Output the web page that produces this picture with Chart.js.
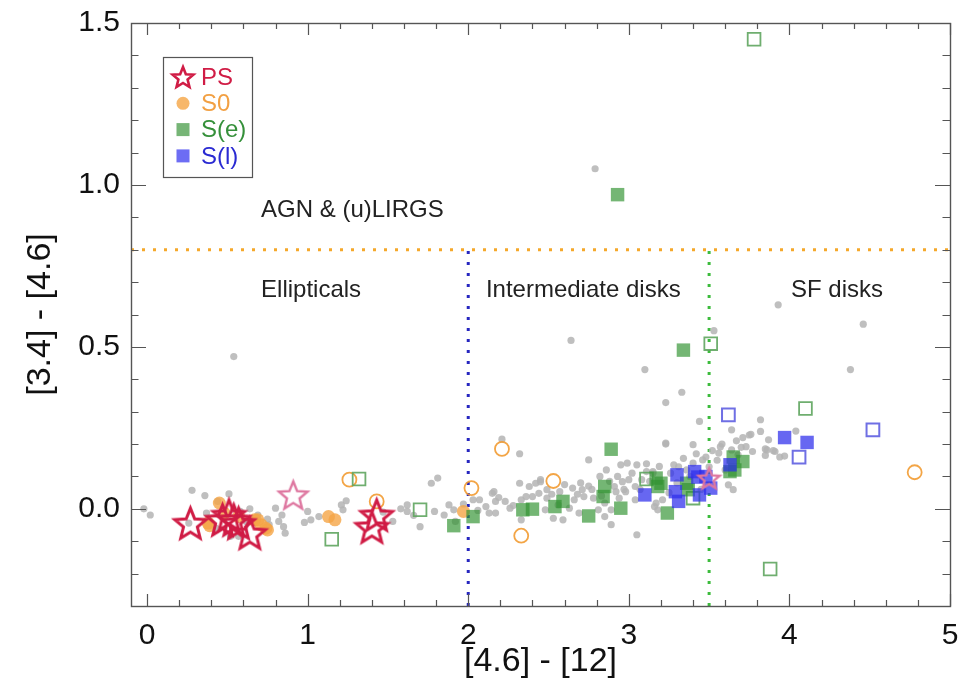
<!DOCTYPE html>
<html>
<head>
<meta charset="utf-8">
<title>[4.6] - [12] vs [3.4] - [4.6]</title>
<script src="https://cdn.jsdelivr.net/npm/chart.js@4.4.1/dist/chart.umd.min.js"></script>
<style>
  html, body { margin: 0; padding: 0; background: #fff; }
  #chart { display: block; }
</style>
</head>
<body>
<canvas id="chart" width="967" height="683"></canvas>
<script>
// colour-colour values: x = [4.6] - [12], y = [3.4] - [4.6]
const parentX = [-0.02, 0.02, 0.26, 0.28, 0.36, 0.37, 0.43, 0.44, 0.48, 0.51, 0.52, 0.54, 0.57, 0.58, 0.62, 0.64, 0.69, 0.75, 0.76, 0.80, 0.82, 0.84, 0.85, 0.86, 0.98, 1.00, 1.02, 1.07, 1.21, 1.22, 1.24,
  1.47, 1.53, 1.58, 1.62, 1.62, 1.66, 1.70, 1.77, 1.79, 1.81, 1.85, 1.88, 1.91, 1.92, 2.03, 2.07, 2.11, 2.13, 2.15, 2.16, 2.17, 2.17, 2.21, 2.23, 2.26, 2.32, 2.32, 2.33, 2.33, 2.36, 2.38, 2.40, 2.42, 2.44, 2.45, 2.48, 2.49,
  1.97, 2.06, 2.19, 2.28, 2.52, 2.56, 2.68, 2.70, 2.77, 2.83, 2.88, 2.93, 2.97, 3.02, 3.08, 3.13, 3.26, 3.31, 3.36, 3.42, 3.48, 3.52, 3.58, 3.67, 3.71,
  2.45, 2.49, 2.53, 2.57, 2.59, 2.60, 2.63, 2.64, 2.65, 2.66, 2.69, 2.71, 2.72, 2.75, 2.75, 2.78, 2.79, 2.81, 2.82, 2.85, 2.85, 2.86, 2.89, 2.89, 2.91, 2.92, 2.94, 2.95, 2.96, 2.98, 2.99, 3.00, 3.04, 3.04, 3.05, 3.05, 3.07, 3.10, 3.11, 3.11, 3.15, 3.17, 3.18, 3.23, 3.23, 3.33, 3.53,
  3.15, 3.16, 3.19, 3.21, 3.23, 3.25, 3.28, 3.30, 3.34, 3.38, 3.40, 3.40, 3.44, 3.45, 3.46, 3.50, 3.55, 3.56, 3.57, 3.60, 3.62, 3.64, 3.64, 3.65, 3.68, 3.70, 3.73, 3.75, 3.76, 3.77, 3.82, 3.82, 3.85, 3.85, 3.86, 3.87, 3.90, 3.91, 3.93, 3.94, 3.97, 4.04, 4.38, 4.46];
const parentY = [0.000, -0.019, -0.044, 0.057, 0.041, -0.013, -0.060, 0.023, -0.030, 0.046, -0.085, 0.470, -0.085, -0.008, -0.040, 0.000, -0.019, -0.032, -0.049, 0.002, -0.039, -0.019, -0.055, -0.075, -0.042, -0.008, -0.034, -0.024, 0.012, -0.003, 0.025,
  -0.010, -0.039, 0.000, 0.012, -0.008, -0.020, -0.055, 0.079, -0.008, 0.095, -0.019, 0.012, -0.003, -0.039, 0.028, 0.028, 0.007, -0.013, 0.048, 0.053, 0.023, -0.013, 0.215, 0.023, 0.002, 0.170, 0.079, 0.028, -0.034, 0.038, 0.069, 0.038, 0.079, 0.048, 0.090, -0.003, 0.059,
  0.015, -0.005, 0.035, 0.010, 0.045, 0.012, 0.045, 0.080, 0.060, 0.040, 0.085, 0.100, 0.060, 0.110, 0.090, 0.085, 0.110, 0.130, 0.120, 0.170, 0.160, 0.180, 0.200, 0.210, 0.220,
  0.084, 0.033, -0.029, 0.053, -0.034, 0.075, 0.002, 0.520, 0.064, 0.028, -0.013, 0.059, 0.038, 0.151, 0.070, 0.033, 1.050, -0.003, 0.100, 0.018, -0.024, 0.120, -0.003, -0.049, 0.069, 0.053, 0.033, 0.136, 0.084, 0.053, 0.141, 0.090, 0.069, 0.028, 0.136, -0.080, 0.060, 0.430, 0.115, 0.139, 0.110, 0.018, -0.003, 0.200, 0.328, 0.360, 0.550,
  0.115, 0.007, 0.131, 0.028, 0.203, 0.050, 0.136, 0.080, 0.156, 0.100, 0.198, 0.141, 0.270, 0.060, 0.151, 0.130, 0.150, 0.172, 0.192, 0.120, 0.074, 0.244, 0.182, 0.059, 0.167, 0.190, 0.192, 0.228, 0.230, 0.177, 0.275, 0.239, 0.185, 0.165, 0.182, 0.213, 0.180, 0.177, 0.630, 0.160, 0.163, 0.240, 0.430, 0.570];

const psX = [0.27, 0.47, 0.51, 0.54, 0.57, 0.64, 1.40, 1.43];
const psY = [-0.044, -0.034, -0.019, -0.034, -0.044, -0.075, -0.056, -0.019];
const psPaleX = [0.91, 3.50];
const psPaleY = [0.043, 0.095];

const s0X = [0.38, 0.39, 0.45, 0.48, 0.57, 0.67, 0.69, 0.71, 0.74, 0.75, 1.13, 1.17, 1.97];
const s0Y = [-0.044, -0.052, 0.018, -0.013, -0.024, -0.034, -0.034, -0.049, -0.060, -0.065, -0.024, -0.034, -0.008];
const s0OpenX = [1.26, 1.43, 2.02, 2.21, 2.33, 2.53, 4.78];
const s0OpenY = [0.090, 0.023, 0.064, 0.185, -0.083, 0.086, 0.113];

const seX = [1.91, 2.03, 2.34, 2.40, 2.54, 2.59, 2.75, 2.84, 2.85, 2.89, 2.95, 2.93, 3.17, 3.18, 3.20, 3.24, 3.34, 3.36, 3.37, 3.63, 3.65, 3.66, 3.71];
const seY = [-0.052, -0.024, -0.003, -0.001, 0.007, 0.023, -0.022, 0.038, 0.069, 0.184, 0.002, 0.970, 0.095, 0.069, 0.079, -0.013, 0.490, 0.079, 0.059, 0.115, 0.160, 0.120, 0.146];
const seOpenX = [1.15, 1.32, 1.70, 3.11, 3.40, 3.51, 3.78, 3.88, 4.10];
const seOpenY = [-0.094, 0.092, -0.003, 0.092, 0.033, 0.510, 1.450, -0.186, 0.310];

const slX = [3.10, 3.29, 3.30, 3.31, 3.41, 3.43, 3.44, 3.48, 3.51, 3.63, 3.97, 4.11];
const slY = [0.043, 0.053, 0.105, 0.023, 0.115, 0.098, 0.043, 0.100, 0.064, 0.136, 0.220, 0.205];
const slOpenX = [3.62, 4.06, 4.52];
const slOpenY = [0.290, 0.160, 0.244];

// class boundaries
const agnCut = 0.8;
const ellipticalCut = 2.0;
const sfCut = 3.5;

const X_TICKS = [0, 1, 2, 3, 4, 5];
const Y_TICKS = [0.0, 0.5, 1.0, 1.5];
const X_RANGE = [-0.1, 5];
const Y_RANGE = [-0.3, 1.5];

const REGION_LABELS = [
  { text: 'AGN & (u)LIRGS', x: 0.71, y: 0.923 },
  { text: 'Ellipticals', x: 0.71, y: 0.676 },
  { text: 'Intermediate disks', x: 2.11, y: 0.676 },
  { text: 'SF disks', x: 4.01, y: 0.676 }
];

const FONT = "'Liberation Sans', Arial, Helvetica, sans-serif";
const PS_RED = '#d01c45';
const PS_PINK = '#de77a0';

const pts = (xs, ys) => xs.map((x, i) => ({ x, y: ys[i] }));

// open five-pointed star as a point sprite
function starSprite(color, outer, lw) {
  const size = Math.ceil(outer * 2 + lw * 2 + 4);
  const c = document.createElement('canvas');
  c.width = c.height = size;
  const g = c.getContext('2d');
  g.translate(size / 2, size / 2 + outer * 0.1);
  g.beginPath();
  for (let i = 0; i < 10; i++) {
    const r = i % 2 ? outer * 0.44 : outer;
    const a = -Math.PI / 2 + i * Math.PI / 5;
    g.lineTo(r * Math.cos(a), r * Math.sin(a));
  }
  g.closePath();
  g.lineJoin = 'miter';
  g.strokeStyle = color;
  g.lineWidth = lw;
  g.stroke();
  return c;
}

const redStar = starSprite(PS_RED, 16.5, 3);
const pinkStar = starSprite(PS_PINK, 15, 2.4);
const pinkStarSmall = starSprite(PS_PINK, 11, 2.4);
const legendStar = starSprite(PS_RED, 11, 2.6);

// inward IDL-style ticks plus the box frame
const frameTicks = {
  id: 'frameTicks',
  afterDraw(chart) {
    const { ctx, chartArea: a, scales: { x, y } } = chart;
    ctx.save();
    ctx.strokeStyle = '#555';
    ctx.lineWidth = 1.2;
    ctx.beginPath();
    for (let v = 0; v <= 5.0001; v += 0.2) {
      const px = Math.round(x.getPixelForValue(v)) + 0.5;
      const major = Math.abs(v - Math.round(v)) < 1e-6;
      const len = major ? 12 : 6;
      ctx.moveTo(px, a.bottom); ctx.lineTo(px, a.bottom - len);
      ctx.moveTo(px, a.top); ctx.lineTo(px, a.top + len);
    }
    for (let v = -0.3; v <= 1.5001; v += 0.1) {
      const py = Math.round(y.getPixelForValue(v)) + 0.5;
      const major = Math.abs(v * 2 - Math.round(v * 2)) < 1e-6;
      const len = major ? 15 : 7.5;
      ctx.moveTo(a.left, py); ctx.lineTo(a.left + len, py);
      ctx.moveTo(a.right, py); ctx.lineTo(a.right - len, py);
    }
    ctx.stroke();
    ctx.lineWidth = 1.4;
    ctx.strokeRect(a.left + 0.5, a.top + 0.5, a.right - a.left, a.bottom - a.top);
    ctx.restore();
  }
};

// region names placed in data coordinates
const regionLabels = {
  id: 'regionLabels',
  afterDatasetsDraw(chart) {
    const { ctx, scales: { x, y } } = chart;
    ctx.save();
    ctx.font = '24px ' + FONT;
    ctx.fillStyle = '#222';
    ctx.textAlign = 'left';
    ctx.textBaseline = 'middle';
    REGION_LABELS.forEach(l => ctx.fillText(l.text, x.getPixelForValue(l.x), y.getPixelForValue(l.y)));
    ctx.restore();
  }
};

// boxed legend in the upper-left corner
const boxLegend = {
  id: 'boxLegend',
  afterDraw(chart) {
    const { ctx } = chart;
    const items = [
      { label: 'PS', color: PS_RED, mark: 'star' },
      { label: 'S0', color: '#f2a043', mark: 'circle', fill: 'rgba(246,170,80,0.85)' },
      { label: 'S(e)', color: '#35903a', mark: 'square', fill: 'rgba(60,150,60,0.7)' },
      { label: 'S(l)', color: '#2a2ad2', mark: 'square', fill: 'rgba(60,60,240,0.75)' }
    ];
    ctx.save();
    ctx.strokeStyle = '#555';
    ctx.lineWidth = 1.2;
    ctx.strokeRect(163.5, 57.5, 89, 120);
    ctx.font = '24px ' + FONT;
    ctx.textBaseline = 'middle';
    items.forEach((it, i) => {
      const cy = 77 + i * 26.3;
      const cx = 183;
      if (it.mark === 'star') {
        ctx.drawImage(legendStar, cx - legendStar.width / 2, cy - legendStar.height / 2);
      } else if (it.mark === 'circle') {
        ctx.fillStyle = it.fill;
        ctx.beginPath(); ctx.arc(cx, cy, 6.5, 0, Math.PI * 2); ctx.fill();
      } else {
        ctx.fillStyle = it.fill;
        ctx.fillRect(cx - 6.5, cy - 6.5, 13, 13);
      }
      ctx.fillStyle = it.color;
      ctx.fillText(it.label, 201, cy + 1);
    });
    ctx.restore();
  }
};

const dotted = (color, data) => ({
  type: 'line',
  data,
  borderColor: color,
  borderWidth: 3,
  borderDash: [3, 8],
  pointRadius: 0,
  fill: false
});

new Chart(document.getElementById('chart'), {
  type: 'scatter',
  data: {
    datasets: [
      { label: 'PS', data: pts(psX, psY), pointStyle: redStar, pointRadius: 10 },
      { label: 'PS (pale)', data: pts(psPaleX, psPaleY), pointStyle: [pinkStar, pinkStarSmall], pointRadius: 10 },
      { label: 'S(l)', data: pts(slX, slY), pointStyle: 'rect', pointRadius: 9.5, backgroundColor: 'rgba(45,45,235,0.72)', borderWidth: 0 },
      { label: 'S(l) open', data: pts(slOpenX, slOpenY), pointStyle: 'rect', pointRadius: 9, backgroundColor: 'transparent', borderColor: 'rgba(95,95,225,0.9)', borderWidth: 2 },
      { label: 'S(e)', data: pts(seX, seY), pointStyle: 'rect', pointRadius: 9.5, backgroundColor: 'rgba(50,148,50,0.68)', borderWidth: 0 },
      { label: 'S(e) open', data: pts(seOpenX, seOpenY), pointStyle: 'rect', pointRadius: 9, backgroundColor: 'transparent', borderColor: 'rgba(95,165,95,0.9)', borderWidth: 1.8 },
      { label: 'S0', data: pts(s0X, s0Y), pointStyle: 'circle', pointRadius: 6.5, backgroundColor: 'rgba(245,165,70,0.8)', borderWidth: 0 },
      { label: 'S0 open', data: pts(s0OpenX, s0OpenY), pointStyle: 'circle', pointRadius: 7, backgroundColor: 'transparent', borderColor: 'rgba(242,155,50,0.9)', borderWidth: 1.8 },
      { label: 'parent', data: pts(parentX, parentY), pointStyle: 'circle', pointRadius: 3.6, backgroundColor: 'rgba(180,180,180,0.85)', borderWidth: 0 },
      dotted('#f5a82a', [{ x: X_RANGE[0], y: agnCut }, { x: X_RANGE[1], y: agnCut }]),
      dotted('#2626c0', [{ x: ellipticalCut, y: Y_RANGE[0] }, { x: ellipticalCut, y: agnCut }]),
      dotted('#3cbb3c', [{ x: sfCut, y: Y_RANGE[0] }, { x: sfCut, y: agnCut }])
    ]
  },
  options: {
    responsive: false,
    animation: false,
    layout: { padding: { top: 23, right: 17, left: 0, bottom: 0 } },
    plugins: { legend: { display: false }, tooltip: { enabled: false } },
    scales: {
      x: {
        type: 'linear',
        min: X_RANGE[0],
        max: X_RANGE[1],
        afterBuildTicks: s => { s.ticks = X_TICKS.map(v => ({ value: v })); },
        afterFit: s => { s.height = 77; s.paddingLeft = 0; s.paddingRight = 0; },
        grid: { display: false, drawTicks: false },
        border: { display: false },
        ticks: { padding: 12, color: '#111', font: { family: FONT, size: 30 }, callback: v => String(v) },
        title: { display: true, text: '[4.6] - [12]', color: '#111', font: { family: FONT, size: 34 }, padding: { top: 0, bottom: 1 } }
      },
      y: {
        type: 'linear',
        min: Y_RANGE[0],
        max: Y_RANGE[1],
        afterBuildTicks: s => { s.ticks = Y_TICKS.map(v => ({ value: v })); },
        afterFit: s => { s.width = 131; s.paddingTop = 0; s.paddingBottom = 0; },
        grid: { display: false, drawTicks: false },
        border: { display: false },
        ticks: { padding: 11, color: '#111', font: { family: FONT, size: 30 }, callback: v => Number(v).toFixed(1) },
        title: { display: true, text: '[3.4] - [4.6]', color: '#111', font: { family: FONT, size: 34 }, padding: { top: 20, bottom: 0 } }
      }
    }
  },
  plugins: [regionLabels, frameTicks, boxLegend]
});
</script>
</body>
</html>
